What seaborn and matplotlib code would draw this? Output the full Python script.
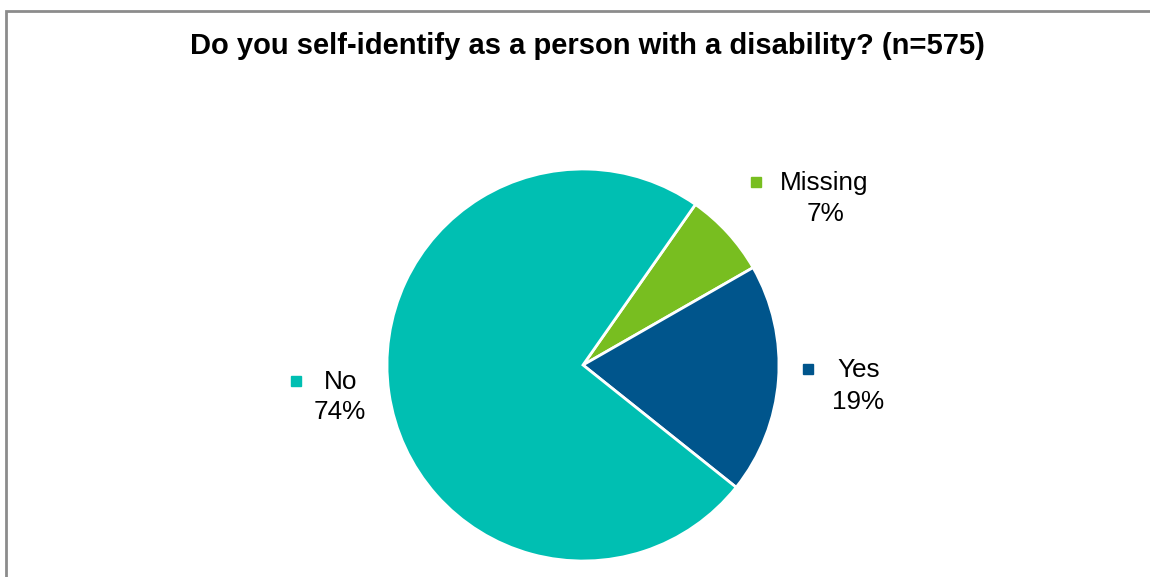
import matplotlib
matplotlib.use("Agg")
import matplotlib.pyplot as plt
import matplotlib.patches as mpatches
import seaborn as sns

# Survey responses (share of respondents, %)
categories = ["Missing", "Yes", "No"]
shares = [7, 19, 74]
colors = ["#78BE20", "#00558C", "#00BFB2"]
title = "Do you self-identify as a person with a disability? (n=575)"

sns.set_theme(style="white")
plt.rcParams["font.family"] = ["Liberation Sans", "DejaVu Sans"]

fig = plt.figure(figsize=(11.5, 5.77), dpi=100)
ax = fig.add_axes([0.3365, 0.0277, 0.3409, 0.6794])

wedges, _ = ax.pie(
    shares,
    colors=colors,
    startangle=55,
    counterclock=False,
    radius=1.0,
    wedgeprops=dict(edgecolor="white", linewidth=2),
)
ax.set_xlim(-1, 1)
ax.set_ylim(-1, 1)
ax.set_aspect("equal")
ax.axis("off")

# label anchors: (key marker x, name x, name y, percent x, percent y) in axes data units
label_pos = {
    "Missing": (0.885, 1.228, 0.929, 1.235, 0.77),
    "Yes": (1.15, 1.405, -0.025, 1.405, -0.19),
    "No": (-1.462, -1.235, -0.087, -1.24, -0.24),
}
for cat, val, col in zip(categories, shares, colors):
    mx, nx, ny, px, py = label_pos[cat]
    ax.plot([mx], [ny + 0.005], marker="s", markersize=7, color=col,
            linestyle="none", clip_on=False)
    ax.text(nx, ny, cat, ha="center", va="center", fontsize=18.8,
            color="black", clip_on=False)
    ax.text(px, py, f"{val}%", ha="center", va="center", fontsize=18.8,
            color="black", clip_on=False)

fig.text(0.511, 0.92, title, ha="center", va="center",
         fontsize=21, fontweight="bold", color="black")

fig.patches.append(mpatches.Rectangle(
    (0.0052, -0.2), 1.3, 0.2 + 0.981, transform=fig.transFigure,
    fill=False, edgecolor="#8C8C8C", linewidth=2, clip_on=False))

fig.savefig("out.png", dpi=100, facecolor="white")
